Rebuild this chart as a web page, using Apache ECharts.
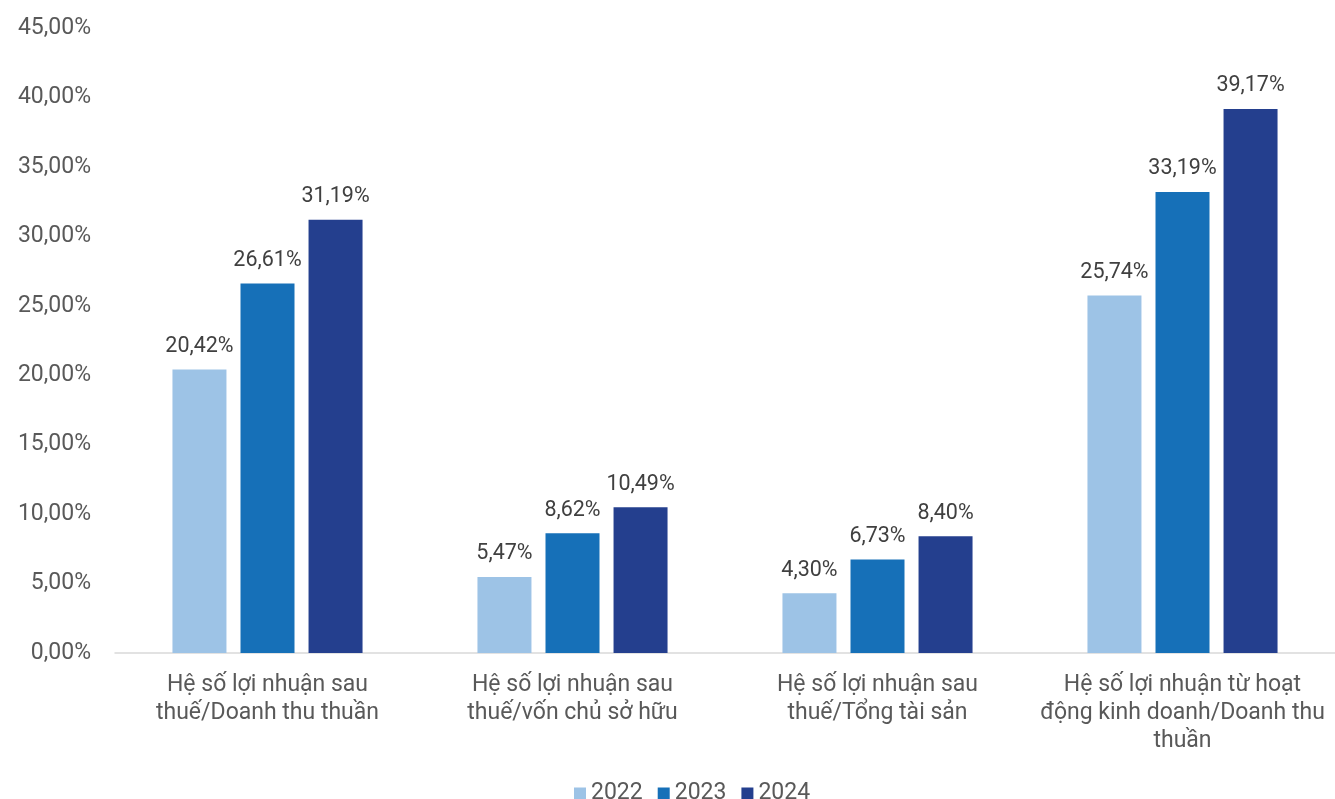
<!DOCTYPE html>
<html><head><meta charset="utf-8">
<script src="https://cdn.jsdelivr.net/npm/echarts@6/dist/echarts.min.js"></script>
<style>html,body{margin:0;padding:0;background:#fff}#c{width:1335px;height:799px}</style>
</head><body><div id="c"></div>
<script>
const categories = [
  "Hệ số lợi nhuận sau\nthuế/Doanh thu thuần",
  "Hệ số lợi nhuận sau\nthuế/vốn chủ sở hữu",
  "Hệ số lợi nhuận sau\nthuế/Tổng tài sản",
  "Hệ số lợi nhuận từ hoạt\nđộng kinh doanh/Doanh thu\nthuần"
];
const seriesNames = ["2022", "2023", "2024"];
const v2022 = [20.42, 5.47, 4.30, 25.74];
const v2023 = [26.61, 8.62, 6.73, 33.19];
const v2024 = [31.19, 10.49, 8.40, 39.17];
const colors = ["#9DC3E6", "#1670B8", "#243F8E"];
const fmt = v => v.toFixed(2).replace('.', ',') + '%';
const font = 'Roboto';
const chart = echarts.init(document.getElementById('c'));
chart.setOption({
  animation: false,
  textStyle: {fontFamily: font},
  grid: {left: 115, right: 0, top: 28, bottom: 146, containLabel: false},
  legend: {
    top: 777, left: 569, itemWidth: 12, itemHeight: 12, itemGap: 15, itemTextGap: 4,
    icon: 'rect',
    textStyle: {fontFamily: font, fontSize: 23, color: '#595959'},
    data: seriesNames
  },
  xAxis: {
    type: 'category', data: categories,
    axisLine: {lineStyle: {color: '#D9D9D9', width: 1.5}},
    axisTick: {show: false},
    axisLabel: {fontFamily: font, fontSize: 23, color: '#595959', lineHeight: 28, margin: 18, interval: 0}
  },
  yAxis: {
    type: 'value', min: 0, max: 45, interval: 5,
    splitLine: {show: false},
    axisLine: {show: false}, axisTick: {show: false},
    axisLabel: {fontFamily: font, fontSize: 23, color: '#595959', margin: 24, formatter: v => fmt(v)}
  },
  series: [v2022, v2023, v2024].map((d, i) => ({
    name: seriesNames[i], type: 'bar', data: d,
    barWidth: 54, barGap: '26%',
    itemStyle: {color: colors[i]},
    label: {show: true, position: 'top', distance: 12, fontFamily: font, fontSize: 21.5, color: '#404040', formatter: p => fmt(p.value)}
  }))
});
</script></body></html>
